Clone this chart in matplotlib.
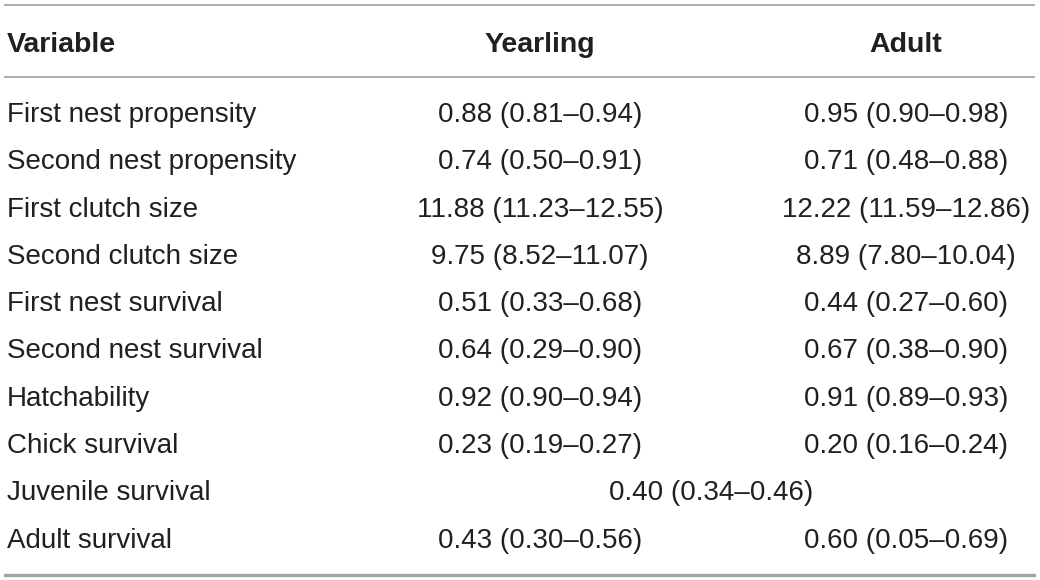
import matplotlib.pyplot as plt

# Tabellendaten
variables = ['First nest propensity', 'Second nest propensity', 'First clutch size',
             'Second clutch size', 'First nest survival', 'Second nest survival',
             'Hatchability', 'Chick survival', 'Juvenile survival', 'Adult survival']
yearling = ['0.88 (0.81–0.94)', '0.74 (0.50–0.91)', '11.88 (11.23–12.55)',
            '9.75 (8.52–11.07)', '0.51 (0.33–0.68)', '0.64 (0.29–0.90)',
            '0.92 (0.90–0.94)', '0.23 (0.19–0.27)', None, '0.43 (0.30–0.56)']
adult = ['0.95 (0.90–0.98)', '0.71 (0.48–0.88)', '12.22 (11.59–12.86)',
         '8.89 (7.80–10.04)', '0.44 (0.27–0.60)', '0.67 (0.38–0.90)',
         '0.91 (0.89–0.93)', '0.20 (0.16–0.24)', None, '0.60 (0.05–0.69)']
shared = {8: '0.40 (0.34–0.46)'}
headers = ['Variable', 'Yearling', 'Adult']

plt.rcParams['font.family'] = ['Liberation Sans', 'DejaVu Sans']
txt_color = '#231f20'
line_color = '#a5a5a5'
fs = 20
fs_head = 20.5

fig = plt.figure(figsize=(10.4, 5.8), dpi=100)
ax = fig.add_axes([0, 0, 1, 1])
ax.set_xlim(0, 1040)
ax.set_ylim(580, 0)
ax.axis('off')

x_var, x_year, x_adult, x_mid = 7, 540, 906, 711

# Kopfzeile
ax.text(x_var, 52, headers[0], fontsize=fs_head, fontweight='bold', color=txt_color, va='baseline', ha='left')
ax.text(x_year, 52, headers[1], fontsize=fs_head, fontweight='bold', color=txt_color, va='baseline', ha='center')
ax.text(x_adult, 52, headers[2], fontsize=fs_head, fontweight='bold', color=txt_color, va='baseline', ha='center')

# Linien
ax.plot([5, 1034], [5, 5], color=line_color, lw=1.3)
ax.plot([5, 1034], [77, 77], color=line_color, lw=1.3)
ax.plot([5, 1034], [575, 575], color=line_color, lw=2.4)

# Zeilen
y0, dy = 122, 47.3
for i, var in enumerate(variables):
    y = y0 + i * dy
    ax.text(x_var, y, var, fontsize=fs, color=txt_color, va='baseline', ha='left')
    if i in shared:
        ax.text(x_mid, y, shared[i], fontsize=fs, color=txt_color, va='baseline', ha='center')
    else:
        ax.text(x_year, y, yearling[i], fontsize=fs, color=txt_color, va='baseline', ha='center')
        ax.text(x_adult, y, adult[i], fontsize=fs, color=txt_color, va='baseline', ha='center')

fig.savefig('out.png', dpi=100)
